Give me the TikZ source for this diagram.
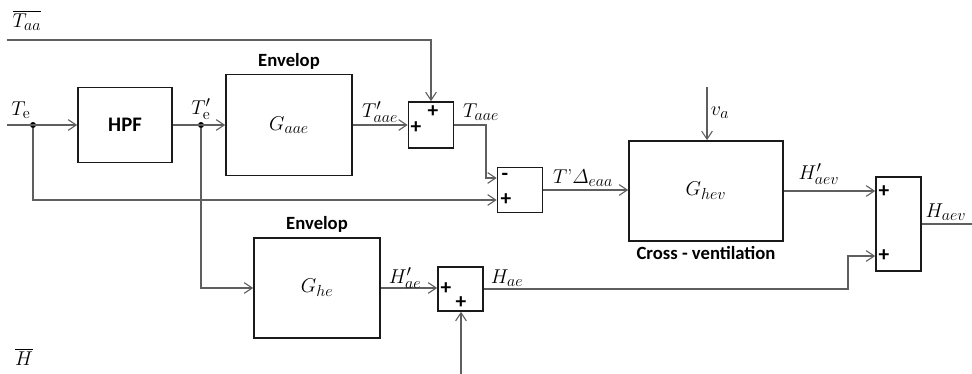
\documentclass[tikz,border=0pt]{standalone}
\usepackage{fix-cm}
\usepackage{amsmath}
\usepackage{fontspec}
\setsansfont{Carlito}
\usepackage{tikz}
\usetikzlibrary{arrows.meta, positioning}
\definecolor{WireGray}{HTML}{5F5F5F}
\definecolor{BoxBlack}{HTML}{1A1A1A}
\DeclareMathSizes{15}{15}{12}{9}

\tikzset{
  block/.style={draw=BoxBlack, line width=1.3pt, inner sep=0pt},
  sumbox/.style={draw=BoxBlack, line width=1.3pt, inner sep=0pt, minimum width=33.75pt},
  flow/.style={draw=WireGray, line width=0.8pt, -{Straight Barb[length=6pt,width=8pt]}},
  wire/.style={draw=WireGray, line width=0.8pt},
  sign/.style={font=\sffamily\bfseries\fontsize{16}{16}\selectfont, inner sep=0pt},
  lbl/.style={font=\fontsize{15}{17}\selectfont, inner sep=0pt},
  captxt/.style={font=\sffamily\bfseries\fontsize{14}{16}\selectfont, inner sep=0pt},
  dot/.style={circle, fill=black, inner sep=0pt, minimum size=4.5pt},
}

\begin{document}
\begin{tikzpicture}[x=0.75pt,y=-0.75pt]
\useasboundingbox (0,0) rectangle (972,374);

% blocks
\node[block, captxt, font=\sffamily\bfseries\fontsize{15.5}{17}\selectfont,
      minimum width=70.5pt, minimum height=56.25pt] (hpf) at (125,125) {HPF};
\node[block, lbl, minimum width=94.5pt, minimum height=75.75pt] (gaae) at (289,125) {$G_{aae}$};
\node[block, lbl, minimum width=115.5pt, minimum height=75pt] (ghev) at (706,191) {$G_{hev}$};
\node[block, lbl, minimum width=94.5pt, minimum height=75pt] (ghe) at (317,288) {$G_{he}$};

% summing boxes
\node[sumbox, minimum height=34.5pt] (sum1) at (431,125) {};
\node[sumbox, minimum height=33.75pt] (sum2) at (520,190) {};
\node[sumbox, minimum height=33pt] (sum4) at (460.5,289) {};
\node[sumbox, minimum height=70.5pt] (sum3) at (898.5,224) {};

% captions
\node[captxt, above=3pt of gaae] (envA) {Envelop};
\node[captxt, above=3pt of ghe] (envB) {Envelop};
\node[captxt, below=3pt of ghev] (xvent) {Cross - ventilation};

% branch points
\node[dot] (d1) at (33,125) {};
\node[dot] (d2) at (201,125) {};

% free ends
\coordinate (tin) at (7,125);
\coordinate (taa) at (7,40);
\coordinate (k1) at (486,178);
\coordinate (va) at (707,87);
\coordinate (k3) at (848,256);
\coordinate (hout) at (972,224);
\coordinate (hin) at (461,374);

% connectors
\draw[flow] (tin) -- (hpf);
\draw[flow] (hpf) -- (gaae);
\draw[flow] (gaae) -- (sum1);
\draw[flow] (taa) -| (sum1.north);
\draw[flow] (sum1.east) -| (k1) -- (k1 -| sum2.west);
\draw[flow] (d1) |- ([yshift=-7.5pt]sum2.west);
\draw[flow] (sum2.east) -- (sum2.east -| ghev.west);
\draw[flow] (va) -- (va |- ghev.north);
\draw[flow] (ghev.east) -- (ghev.east -| sum3.west);
\draw[flow] (d2) |- (ghe.west);
\draw[flow] (ghe.east) -- (ghe.east -| sum4.west);
\draw[flow] (hin) -- (hin |- sum4.south);
\draw[flow] (sum4.east) -| (k3) -- (k3 -| sum3.west);
\draw[wire] (sum3.east) -- (hout);

% signs
\node[sign] (s1a) at (416,128) {+};
\node[sign] (s1b) at (433,112) {+};
\node[sign] (s2a) at (505,177) {-};
\node[sign] (s2b) at (506,200) {+};
\node[sign] (s3a) at (884,192) {+};
\node[sign] (s3b) at (884,256) {+};
\node[sign] (s4a) at (446,289) {+};
\node[sign] (s4b) at (461,303) {+};

% signal labels
\node[lbl] (lTaa) at (27,20) {$\overline{T_{aa}}$};
\node[lbl] (lTe) at (21,110) {$T_{\mathrm{e}}$};
\node[lbl] (lTep) at (201,109) {$T'_{\mathrm{e}}$};
\node[lbl] (lTaaep) at (380,112) {$T'_{aae}$};
\node[lbl] (lTaae) at (481,112) {$T_{aae}$};
\node[lbl] (lTd) at (583,178) {$T$’$\varDelta_{eaa}$};
\node[lbl] (lva) at (720,113) {$v_a$};
\node[lbl] (lHaevp) at (819,174) {$H'_{aev}$};
\node[lbl] (lHaev) at (946,212) {$H_{aev}$};
\node[lbl] (lHaep) at (405,278) {$H'_{ae}$};
\node[lbl] (lHae) at (507,278) {$H_{ae}$};
\node[lbl] (lH) at (24,357) {$\overline{H}$};
\end{tikzpicture}
\end{document}
